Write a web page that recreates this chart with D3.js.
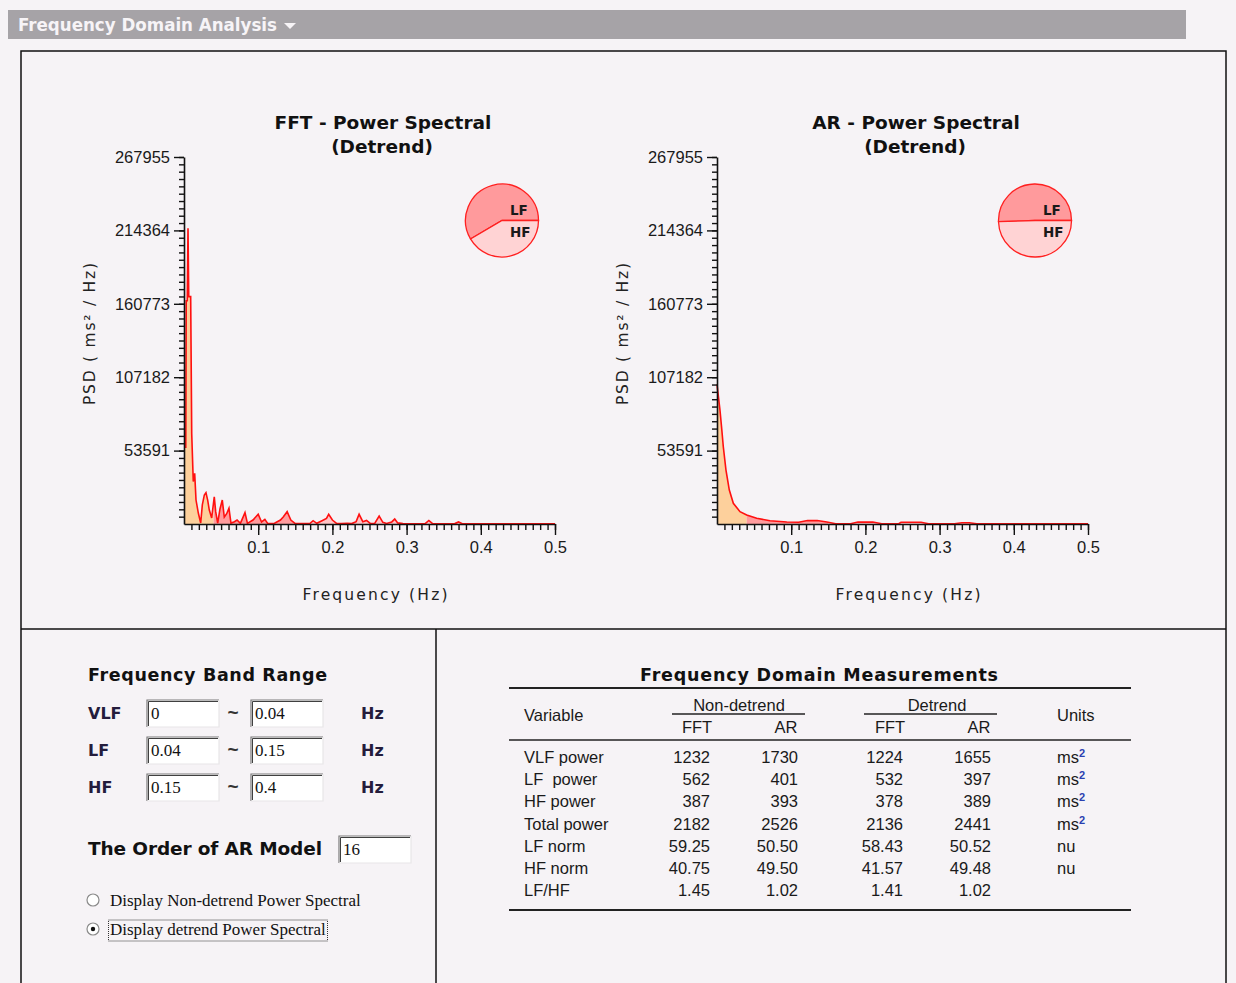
<!DOCTYPE html>
<html>
<head>
<meta charset="utf-8">
<script src="https://cdn.jsdelivr.net/npm/d3@7"></script>
<style>
  body { margin: 0; background: #f6f3f6; }
  svg { display: block; font-family: "Liberation Sans", Arial, sans-serif; }
  .bold { font-family: "DejaVu Sans", Verdana, sans-serif; font-weight: bold; }
  .serif { font-family: "Liberation Serif", "Times New Roman", serif; }
  .pre { white-space: pre; }
</style>
</head>
<body>
<svg id="chart" width="1236" height="983"></svg>
<script>
// ---- data ----
var fftFreq = [0, 0.0024, 0.0030, 0.0044, 0.0054, 0.0064, 0.0090, 0.0104, 0.0125, 0.0144,
  0.0162, 0.0193, 0.0225,
  0.0247, 0.0274, 0.0296, 0.0319, 0.0341, 0.0373, 0.0408, 0.0427, 0.0454, 0.0485,
  0.0516, 0.0543, 0.0575, 0.0606, 0.0633, 0.0680, 0.0715, 0.0760, 0.0822, 0.0855,
  0.0930, 0.1000, 0.1045, 0.1090, 0.1130, 0.1220, 0.1300, 0.1340, 0.1390, 0.1440,
  0.1500, 0.1600, 0.1700, 0.1740, 0.1790, 0.1860, 0.1920, 0.1950, 0.2000, 0.2060,
  0.2120, 0.2200, 0.2260, 0.2320, 0.2360, 0.2410, 0.2460, 0.2510, 0.2570, 0.2630,
  0.2680, 0.2730, 0.2800, 0.2840, 0.2880, 0.2950, 0.3100, 0.3250, 0.3300, 0.3350,
  0.3500, 0.3650, 0.3700, 0.3750, 0.4000, 0.4500, 0.5000];
var fftPsd = [56000, 56000, 163000, 163000, 216000, 166000, 166000, 66000, 31000, 37000,
  17500, 8000, 700,
  13900, 21200, 22900, 17500, 10200, 4400, 19900, 9000, 700, 11000,
  17500, 5000, 7500, 11500, 700, 1700, 2900, 500, 8300, 500,
  2900, 7100, 1500, 3400, 300, 500, 2900, 5300, 9000, 2900,
  300, 300, 500, 2400, 500, 2400, 4100, 7100, 2900, 300,
  300, 500, 300, 1700, 7100, 1700, 2600, 400, 400, 5800,
  1200, 400, 1500, 3600, 800, 300, 200, 300, 2600, 300,
  200, 300, 1500, 200, 100, 100, 100];

var arFreq = [0, 0.004, 0.0063, 0.0085, 0.0121, 0.0166, 0.022, 0.031, 0.040, 0.0535,
  0.0714, 0.094, 0.110, 0.122, 0.135, 0.148, 0.160, 0.180, 0.190, 0.210,
  0.222, 0.245, 0.248, 0.275, 0.285, 0.320, 0.330, 0.340, 0.350, 0.400, 0.500];
var arPsd = [102000, 83200, 69900, 56400, 39400, 24800, 15100, 9000, 6600, 4200,
  2400, 1500, 1300, 2500, 2500, 1400, 200, 200, 1400, 1400,
  200, 200, 1300, 1300, 200, 200, 900, 900, 200, 100, 100];

var yMax = 267955;
var yTicks = [53591, 107182, 160773, 214364, 267955];
var xTicks = [0.1, 0.2, 0.3, 0.4, 0.5];

var bandNames = ["VLF", "LF", "HF"];
var bandLow = ["0", "0.04", "0.15"];
var bandHigh = ["0.04", "0.15", "0.4"];
var arOrder = "16";

var tableVars = ["VLF power", "LF  power", "HF power", "Total power", "LF norm", "HF norm", "LF/HF"];
var ndFFT = ["1232", "562", "387", "2182", "59.25", "40.75", "1.45"];
var ndAR = ["1730", "401", "393", "2526", "50.50", "49.50", "1.02"];
var dFFT = ["1224", "532", "378", "2136", "58.43", "41.57", "1.41"];
var dAR = ["1655", "397", "389", "2441", "50.52", "49.48", "1.02"];
var units = ["ms", "ms", "ms", "ms", "nu", "nu", ""];

var fftPie = [58.43, 41.57];   // LF, HF (detrend FFT)
var arPie = [50.52, 49.48];    // LF, HF (detrend AR)

var bandFill = ["#fdd09c", "#ff9c9e", "#ffc4c6"];

var svg = d3.select("#chart");

// ---- header bar and frames ----
svg.append("rect").attr("x", 8).attr("y", 10).attr("width", 1178).attr("height", 29).attr("fill", "#a6a3a7");
svg.append("text").attr("class", "bold").attr("x", 18).attr("y", 31)
  .attr("font-size", 18).attr("fill", "#f7f4f7")
  .attr("textLength", 259).attr("lengthAdjust", "spacingAndGlyphs")
  .text("Frequency Domain Analysis");
svg.append("path").attr("d", "M284,23 L296,23 L290,29 Z").attr("fill", "#f7f4f7");

svg.append("rect").attr("x", 21).attr("y", 51).attr("width", 1205).attr("height", 960)
  .attr("fill", "none").attr("stroke", "#111").attr("stroke-width", 1.5);
svg.append("line").attr("x1", 21).attr("x2", 1226).attr("y1", 629).attr("y2", 629)
  .attr("stroke", "#111").attr("stroke-width", 1.5);
svg.append("line").attr("x1", 436).attr("x2", 436).attr("y1", 629).attr("y2", 983)
  .attr("stroke", "#111").attr("stroke-width", 1.5);

// ---- spectrum panels ----
function drawSpectrum(x0, name, freq, psd, pieVals) {
  var g = svg.append("g");
  var x = d3.scaleLinear().domain([0, 0.5]).range([x0, x0 + 371]);
  var y = d3.scaleLinear().domain([0, yMax]).range([524, 157]);
  var pts = d3.zip(freq, psd);

  var area = d3.area().x(function(d) { return x(d[0]); }).y0(y(0)).y1(function(d) { return y(d[1]); });
  var line = d3.line().x(function(d) { return x(d[0]); }).y(function(d) { return y(d[1]); });

  var lows = [0, 0.04, 0.15], highs = [0.04, 0.15, 0.4];
  lows.forEach(function(lo, i) {
    var id = name + "clip" + i;
    g.append("clipPath").attr("id", id).append("rect")
      .attr("x", x(lo)).attr("y", 140).attr("width", x(highs[i]) - x(lo)).attr("height", y(0) - 140);
    g.append("path").datum(pts).attr("d", area).attr("fill", bandFill[i])
      .attr("clip-path", "url(#" + id + ")");
  });
  g.append("path").datum(pts).attr("d", line).attr("fill", "none")
    .attr("stroke", "#ff1010").attr("stroke-width", 1.6);

  // axes
  var minorX = d3.range(1, 51).map(function(i) { return i / 100; });
  var minorY = d3.range(1, 51).map(function(i) { return i * yMax / 50; });

  var gx = g.append("g").attr("transform", "translate(0," + y(0) + ")");
  gx.call(d3.axisBottom(x).tickValues(minorX).tickSize(6).tickSizeOuter(0).tickFormat(""));
  gx.append("g").call(d3.axisBottom(x).tickValues(xTicks).tickSize(11).tickPadding(6)
    .tickFormat(d3.format(".1f"))).select(".domain").remove();

  var gy = g.append("g").attr("transform", "translate(" + x(0) + ",0)");
  gy.call(d3.axisLeft(y).tickValues(minorY).tickSize(5).tickSizeOuter(0).tickFormat(""));
  gy.append("g").call(d3.axisLeft(y).tickValues(yTicks).tickSize(10).tickPadding(4)
    .tickFormat(d3.format("d"))).select(".domain").remove();

  g.selectAll(".domain").attr("stroke", "#111").attr("stroke-width", 1.6);
  g.selectAll(".tick line").attr("stroke", "#111").attr("stroke-width", 1.4);
  g.selectAll(".tick text").attr("font-family", "Liberation Sans, Arial, sans-serif")
    .attr("font-size", 16.5).attr("fill", "#1a1a1a");

  // titles and labels
  g.append("text").attr("class", "bold").attr("x", x0 + 199).attr("y", 129)
    .attr("text-anchor", "middle").attr("font-size", 18.5).attr("fill", "#111")
    .text(name + " - Power Spectral");
  g.append("text").attr("class", "bold").attr("x", x0 + 198).attr("y", 153)
    .attr("text-anchor", "middle").attr("font-size", 18.5).attr("fill", "#111")
    .text("(Detrend)");
  g.append("text").attr("x", x0 + 191).attr("y", 600).attr("text-anchor", "middle")
    .attr("font-family", "DejaVu Sans, Verdana, sans-serif").attr("font-size", 15.5).attr("fill", "#222")
    .attr("textLength", 145).attr("lengthAdjust", "spacing")
    .text("Frequency (Hz)");
  g.append("text").attr("transform", "translate(" + (x0 - 89) + ",334) rotate(-90)")
    .attr("text-anchor", "middle")
    .attr("font-family", "DejaVu Sans, Verdana, sans-serif").attr("font-size", 15.5).attr("fill", "#222")
    .attr("textLength", 142).attr("lengthAdjust", "spacing")
    .text("PSD ( ms\u00b2 / Hz)");

  // LF / HF pie
  var cx = x0 + 318, cy = 220.5, r = 36.5;
  var frac = pieVals[0] / (pieVals[0] + pieVals[1]);
  var start = Math.PI / 2 - 2 * Math.PI * frac;
  var pie = d3.pie().sort(null).startAngle(start).endAngle(start + 2 * Math.PI);
  var arc = d3.arc().innerRadius(0).outerRadius(r);
  var gp = g.append("g").attr("transform", "translate(" + cx + "," + cy + ")");
  gp.selectAll("path").data(pie(pieVals)).enter().append("path")
    .attr("d", arc)
    .attr("fill", function(d, i) { return i === 0 ? "#ff9a9c" : "#ffd3d4"; })
    .attr("stroke", "#ff2020").attr("stroke-width", 1.3);
  gp.append("text").attr("class", "bold").attr("x", 8).attr("y", -6).attr("font-size", 13.5)
    .attr("fill", "#1a1a1a").text("LF");
  gp.append("text").attr("class", "bold").attr("x", 8).attr("y", 16).attr("font-size", 13.5)
    .attr("fill", "#1a1a1a").text("HF");
}

drawSpectrum(184, "FFT", fftFreq, fftPsd, fftPie);
drawSpectrum(717, "AR", arFreq, arPsd, arPie);

// ---- bottom left: band range form ----
function inputBox(x, y, w, h, val) {
  var g = svg.append("g");
  g.append("rect").attr("x", x).attr("y", y).attr("width", w).attr("height", h).attr("fill", "#fff");
  g.append("path").attr("d", "M" + x + "," + (y + h) + " V" + y + " H" + (x + w))
    .attr("fill", "none").attr("stroke", "#7a7a7a").attr("stroke-width", 1.2);
  g.append("path").attr("d", "M" + (x + 1.5) + "," + (y + h - 1) + " V" + (y + 1.5) + " H" + (x + w - 1))
    .attr("fill", "none").attr("stroke", "#404040").attr("stroke-width", 1);
  g.append("path").attr("d", "M" + x + "," + (y + h) + " H" + (x + w) + " V" + y)
    .attr("fill", "none").attr("stroke", "#e8e6e8").attr("stroke-width", 1.2);
  g.append("text").attr("class", "serif").attr("x", x + 4).attr("y", y + 19)
    .attr("font-size", 17).attr("fill", "#111").text(val);
}

svg.append("text").attr("class", "bold").attr("x", 88).attr("y", 681).attr("font-size", 17.5)
  .attr("fill", "#111").attr("textLength", 239).attr("lengthAdjust", "spacing")
  .text("Frequency Band Range");

bandNames.forEach(function(b, i) {
  var yy = 700 + i * 37;
  svg.append("text").attr("class", "bold").attr("x", 88).attr("y", yy + 19).attr("font-size", 16)
    .attr("fill", "#241c3c").text(b);
  inputBox(147, yy, 72, 27, bandLow[i]);
  svg.append("text").attr("x", 233).attr("y", yy + 19).attr("text-anchor", "middle")
    .attr("font-size", 19).attr("font-weight", "bold").attr("fill", "#333").text("~");
  inputBox(251, yy, 72, 27, bandHigh[i]);
  svg.append("text").attr("class", "bold").attr("x", 361).attr("y", yy + 19).attr("font-size", 16)
    .attr("fill", "#241c3c").text("Hz");
});

svg.append("text").attr("class", "bold").attr("x", 88).attr("y", 855).attr("font-size", 18.5)
  .attr("fill", "#111").attr("textLength", 234).attr("lengthAdjust", "spacing")
  .text("The Order of AR Model");
inputBox(339, 836, 72, 27, arOrder);

var radios = ["Display Non-detrend Power Spectral", "Display detrend Power Spectral"];
radios.forEach(function(t, i) {
  var cy = 900 + i * 29;
  svg.append("circle").attr("cx", 93).attr("cy", cy).attr("r", 6)
    .attr("fill", "#fff").attr("stroke", "#8a8a8a").attr("stroke-width", 1.2);
  if (i === 1) {
    svg.append("circle").attr("cx", 93).attr("cy", cy).attr("r", 2.2).attr("fill", "#111");
    svg.append("rect").attr("x", 108.5).attr("y", cy - 9).attr("width", 219).attr("height", 21)
      .attr("fill", "none").attr("stroke", "#333").attr("stroke-width", 1).attr("stroke-dasharray", "1,1");
  }
  svg.append("text").attr("class", "serif").attr("x", 110).attr("y", cy + 6).attr("font-size", 17)
    .attr("fill", "#111").text(t);
});

// ---- measurement table ----
var tg = svg.append("g");
tg.append("text").attr("class", "bold").attr("x", 819).attr("y", 681).attr("text-anchor", "middle")
  .attr("font-size", 17.5).attr("fill", "#111").attr("textLength", 358).attr("lengthAdjust", "spacing")
  .text("Frequency Domain Measurements");
[[688, 2], [740, 1.6], [910, 2]].forEach(function(l) {
  tg.append("line").attr("x1", 509).attr("x2", 1131).attr("y1", l[0]).attr("y2", l[0])
    .attr("stroke", "#222").attr("stroke-width", l[1]);
});
function ttext(x, y, t, anchor) {
  return tg.append("text").attr("class", "pre").attr("x", x).attr("y", y).attr("text-anchor", anchor || "start")
    .attr("font-size", 16.5).attr("fill", "#1a1a1a").text(t);
}
ttext(524, 721, "Variable");
ttext(739, 711, "Non-detrend", "middle");
ttext(937, 711, "Detrend", "middle");
ttext(1057, 721, "Units");
[[672, 805], [864, 997]].forEach(function(s) {
  tg.append("line").attr("x1", s[0]).attr("x2", s[1]).attr("y1", 714).attr("y2", 714)
    .attr("stroke", "#222").attr("stroke-width", 1.5);
});
ttext(697, 733, "FFT", "middle");
ttext(786, 733, "AR", "middle");
ttext(890, 733, "FFT", "middle");
ttext(979, 733, "AR", "middle");

var colRight = [710, 798, 903, 991];
var cols = [ndFFT, ndAR, dFFT, dAR];
tableVars.forEach(function(v, i) {
  var yy = 763 + i * 22.2;
  ttext(524, yy, v);
  cols.forEach(function(c, j) { ttext(colRight[j], yy, c[i], "end"); });
  if (units[i]) {
    ttext(1057, yy, units[i]);
    if (units[i] === "ms") {
      tg.append("text").attr("x", 1079).attr("y", yy - 6).attr("font-size", 11).attr("font-weight", "bold")
        .attr("fill", "#2a3fb0").text("2");
    }
  }
});
</script>
</body>
</html>
